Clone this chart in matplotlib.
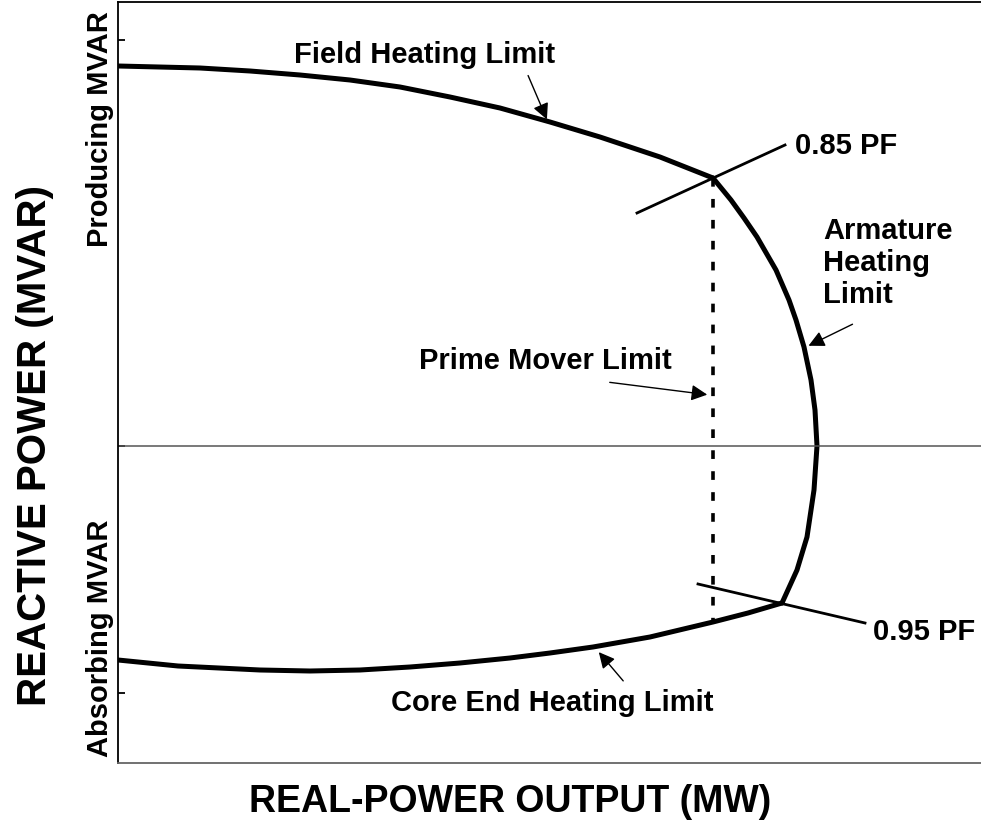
import matplotlib
matplotlib.use("Agg")
import matplotlib.pyplot as plt

plt.rcParams['font.family'] = ['Liberation Sans', 'DejaVu Sans']
plt.rcParams['font.weight'] = 'bold'

# capability curve (arbitrary MW / MVAR units)
field_mw = [0, 82, 132, 182, 232, 282, 332, 382, 432, 482, 542, 595]
field_mvar = [380, 378, 375, 371, 366, 359, 349, 338, 324, 309, 289, 268]

arm_mw = [595, 613, 626, 639, 658, 671, 678, 686, 693, 697, 699, 696, 689, 679, 664]
arm_mvar = [268, 246, 228, 209, 176, 146, 126, 99, 66, 36, 0, -44, -91, -124, -157]

core_mw = [664, 630, 595, 532, 475, 432, 392, 342, 292, 242, 192, 142, 60, 0]
core_mvar = [-157, -167, -176, -191, -201, -207, -212, -217, -221, -224, -225, -224, -220, -214]

# prime mover limit (vertical dotted)
pm_mw = [595, 595]
pm_mvar = [268, -178]

# power factor lines
pf85_mw = [519, 667]
pf85_mvar = [233, 301]
pf95_mw = [580, 747]
pf95_mvar = [-138, -177]

fig = plt.figure(figsize=(9.81, 8.25), dpi=100)
ax = fig.add_axes([118/981, 62/825, 1 - 118/981, 761/825])

ax.plot(field_mw, field_mvar, color='black', lw=3.6, solid_capstyle='round', solid_joinstyle='round')
ax.plot(arm_mw, arm_mvar, color='black', lw=3.6, solid_capstyle='round', solid_joinstyle='round')
ax.plot(core_mw, core_mvar, color='black', lw=3.6, solid_capstyle='round', solid_joinstyle='round')
ax.plot(pm_mw, pm_mvar, color='black', lw=2.6, dashes=(2.4, 3.4))
ax.plot(pf85_mw, pf85_mvar, color='black', lw=2.0)
ax.plot(pf95_mw, pf95_mvar, color='black', lw=2.0)
ax.axhline(0, color='#555555', lw=1.1)

ax.set_xlim(0, 863)
ax.set_ylim(-317, 444)

for s in ['left', 'top', 'bottom']:
    ax.spines[s].set_linewidth(1.3)
ax.spines['bottom'].set_color('#666666')
ax.spines['right'].set_visible(False)
ax.set_xticks([])
ax.set_yticks([406, 0, -247])
ax.set_yticklabels([])
ax.tick_params(axis='y', direction='in', length=5, width=1.3)

arrow = dict(arrowstyle='-|>', color='black', lw=1.0, mutation_scale=24)
fs = 21

ax.text(307, 391, 'Field Heating Limit', ha='center', va='center',
        fontsize=fs, fontweight='bold')
ax.annotate('', xy=(430, 324), xytext=(409, 373), arrowprops=arrow)

ax.text(705, 183, 'Armature\nHeating\nLimit', ha='left', va='center',
        fontsize=fs, fontweight='bold', linespacing=1.2)
ax.annotate('', xy=(688, 99), xytext=(737, 123), arrowprops=arrow)

ax.text(427, 85, 'Prime Mover Limit', ha='center', va='center',
        fontsize=fs, fontweight='bold')
ax.annotate('', xy=(592, 51), xytext=(489, 64), arrowprops=arrow)

ax.text(434, -257, 'Core End Heating Limit', ha='center', va='center',
        fontsize=fs, fontweight='bold')
ax.annotate('', xy=(479, -204), xytext=(507, -237), arrowprops=arrow)

ax.text(677, 300, '0.85 PF', ha='left', va='center', fontsize=fs, fontweight='bold')
ax.text(755, -186, '0.95 PF', ha='left', va='center', fontsize=fs, fontweight='bold')

fig.text(100/981, 1 - 129/825, 'Producing MVAR', rotation=90, ha='center', va='center',
         fontsize=fs, fontweight='bold')
fig.text(100/981, 1 - 638/825, 'Absorbing MVAR', rotation=90, ha='center', va='center',
         fontsize=fs, fontweight='bold')
fig.text(35/981, 1 - 446/825, 'REACTIVE POWER (MVAR)', rotation=90, ha='center', va='center',
         fontsize=29, fontweight='bold')
fig.text(510/981, 1 - 802/825, 'REAL-POWER OUTPUT (MW)', ha='center', va='center',
         fontsize=27, fontweight='bold')

fig.savefig('out.png', dpi=100)
